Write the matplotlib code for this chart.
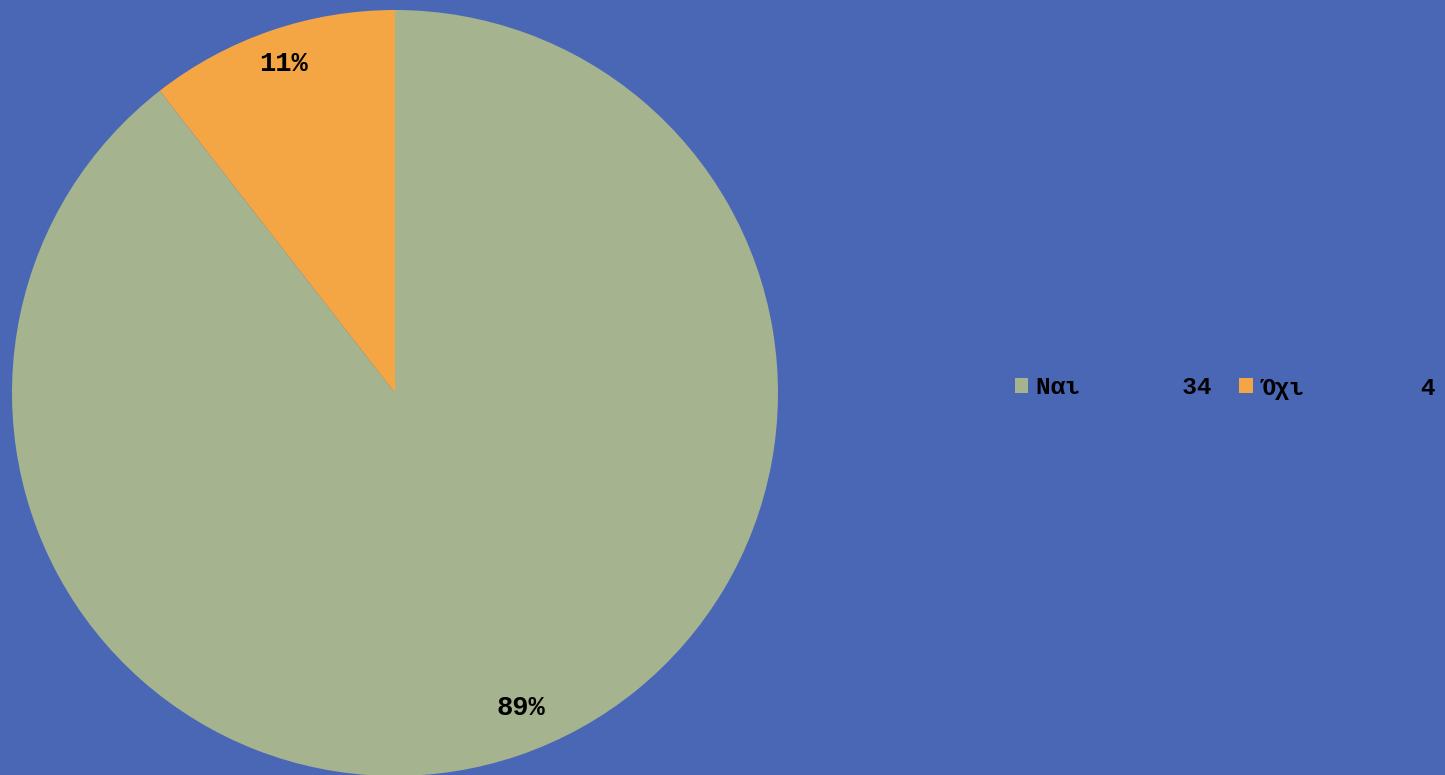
import matplotlib
matplotlib.use("Agg")
import matplotlib.pyplot as plt
from matplotlib.patches import Patch

# Survey answers
categories = ["Nαι", "Όχι"]
counts = [34, 4]
colors = ["#A5B38F", "#F4A645"]
background = "#4A67B6"

W, H = 1445, 775
fig = plt.figure(figsize=(W / 100, H / 100), dpi=100, facecolor=background)

# Pie axes: centre at (395, 393) px, radius 383 px
cx, cy, r = 395, 393, 383
ax = fig.add_axes([(cx - r) / W, (H - cy - r) / H, 2 * r / W, 2 * r / H])
ax.set_facecolor(background)
ax.axis("off")

wedges, _, autotexts = ax.pie(
    counts,
    colors=colors,
    startangle=90,
    counterclock=False,
    autopct=lambda p: f"{p:.0f}%",
    pctdistance=0.88,
    radius=1.0,
    wedgeprops=dict(linewidth=0),
    textprops=dict(family="Liberation Mono", fontweight="bold",
                   fontsize=19.5, color="black"),
)
# Percentage label placement inside each wedge
label_pos = [(0.329, -0.822), (-0.292, 0.86)]
for t, pos in zip(autotexts, label_pos):
    t.set_position(pos)

ax.set_xlim(-1, 1)
ax.set_ylim(-1, 1)

# Legend: name and count padded to a fixed monospace width
labels = [f"{name}{n:>9}" for name, n in zip(categories, counts)]
handles = [Patch(facecolor=c, edgecolor="none") for c in colors]
fig.legend(
    handles, labels,
    loc="center left",
    bbox_to_anchor=(1015 / W, 1 - 388 / H),
    ncol=2,
    frameon=False,
    prop=dict(family="Liberation Mono", weight="bold", size=17.6),
    labelcolor="black",
    handlelength=0.55,
    handleheight=0.55,
    handletextpad=0.3,
    columnspacing=1.15,
    borderaxespad=0,
    borderpad=0,
)

fig.savefig("out.png", dpi=100, facecolor=background)
